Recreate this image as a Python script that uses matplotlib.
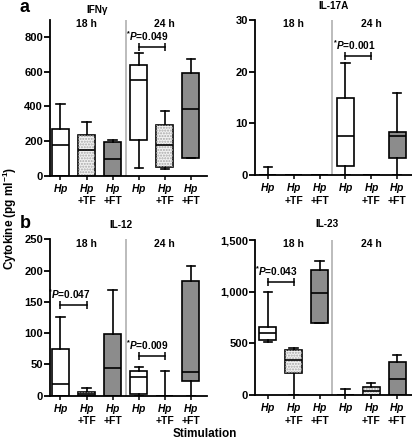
import matplotlib
matplotlib.use("Agg")
import matplotlib.pyplot as plt
from matplotlib.patches import PathPatch
from matplotlib.ticker import FuncFormatter

plt.rcParams['font.family'] = ['Liberation Sans', 'DejaVu Sans']
plt.rcParams['font.weight'] = 'bold'
plt.rcParams['mathtext.fontset'] = 'custom'
plt.rcParams['mathtext.rm'] = 'Liberation Sans:bold'
plt.rcParams['mathtext.it'] = 'Liberation Sans:italic:bold'
plt.rcParams['mathtext.bf'] = 'Liberation Sans:bold'
plt.rcParams['mathtext.bfit'] = 'Liberation Sans:italic:bold'

groups = ['$\\mathbfit{Hp}$', '$\\mathbfit{Hp}$\n+TF', '$\\mathbfit{Hp}$\n+FT'] * 2
positions = [1, 2, 3, 4, 5, 6]
box_colors = ['white', '#f2f2f2', '#8c8c8c'] * 2

# IFNγ
ifn_lo = [0, 0, 0, 46, 38, 100]
ifn_q1 = [0, 0, 0, 204, 52, 104]
ifn_med = [179, 146, 98, 552, 177, 385]
ifn_q3 = [269, 233, 192, 642, 292, 594]
ifn_hi = [415, 308, 208, 710, 375, 677]

# IL-17A
il17_lo = [0, 0, 0, 0, 0, 0]
il17_q1 = [0, 0, 0, 1.7, 0, 3.35]
il17_med = [0, 0, 0, 7.5, 0, 7.5]
il17_q3 = [0, 0, 0, 15.0, 0, 8.4]
il17_hi = [1.55, 0, 0, 21.6, 0, 15.8]

# IL-12
il12_lo = [0, 0, 0, 0, 0, 0]
il12_q1 = [0, 0, 0, 2.7, 0, 24]
il12_med = [18.6, 3, 44.7, 30, 0, 38.3]
il12_q3 = [74.5, 6.4, 98.4, 40, 0, 183.5]
il12_hi = [126, 11.7, 168.6, 46, 38.8, 207]

# IL-23
il23_lo = [510, 0, 694, 0, 0, 0]
il23_q1 = [532, 216, 694, 0, 0, 6]
il23_med = [597, 339, 984, 0, 40, 155]
il23_q3 = [661, 435, 1206, 5, 81, 323]
il23_hi = [994, 461, 1297, 58, 119, 387]

# significance brackets: (left group, right group, height, p text)
ifn_sig = [(4, 5, 742, '0.049')]
il17_sig = [(4, 5, 23.0, '0.001')]
il12_sig = [(1, 2, 144.7, '0.047'), (4, 5, 63.3, '0.009')]
il23_sig = [(1, 2, 1094, '0.043')]

W, H = 412, 441
fig = plt.figure(figsize=(W / 100, H / 100), dpi=100)


def make_ax(left, top, right, bottom):
    return fig.add_axes([left / W, 1 - bottom / H, (right - left) / W, (bottom - top) / H])


def panel(ax, lo, q1, med, q3, hi, sigs, ylim, yticks, title, title_xy, xlim, fmt=None):
    stats = []
    for i in range(6):
        stats.append(dict(med=med[i], q1=q1[i], q3=q3[i], whislo=lo[i], whishi=hi[i]))
    res = ax.bxp(stats, positions=positions, widths=0.65, capwidths=0.32,
                 patch_artist=True, showfliers=False, manage_ticks=False,
                 boxprops=dict(linewidth=1.2, edgecolor='black'),
                 whiskerprops=dict(linewidth=1.2, color='black'),
                 capprops=dict(linewidth=1.2, color='black'),
                 medianprops=dict(linewidth=1.2, color='black'))
    for i, b in enumerate(res['boxes']):
        b.set_facecolor(box_colors[i])
        if i % 3 == 1:
            ax.add_patch(PathPatch(b.get_path(), facecolor='none', edgecolor='#a8a8a8',
                                   hatch='......', lw=0, zorder=2.05))
    ax.axvline(3.5, color='#b0b0b0', lw=1.2, zorder=1)
    ax.set_xlim(*xlim)
    ax.set_ylim(*ylim)
    ax.set_yticks(yticks)
    if fmt:
        ax.yaxis.set_major_formatter(FuncFormatter(fmt))
    ax.set_xticks(positions)
    ax.set_xticklabels(groups, fontsize=7.5, fontweight='bold', linespacing=1.05)
    for s in ['top', 'right']:
        ax.spines[s].set_visible(False)
    for s in ['left', 'bottom']:
        ax.spines[s].set_linewidth(1.3)
    ax.tick_params(axis='y', direction='out', length=4, width=1.3, labelsize=8, pad=1)
    ax.tick_params(axis='x', direction='out', length=3, width=1.1, pad=1.5)
    for lab in ax.get_yticklabels():
        lab.set_fontweight('bold')
    ax.text(2, 0.972, '18 h', transform=ax.get_xaxis_transform(), ha='center', va='center',
            fontsize=7.5, fontweight='bold')
    ax.text(5, 0.972, '24 h', transform=ax.get_xaxis_transform(), ha='center', va='center',
            fontsize=7.5, fontweight='bold')
    ax.text(title_xy[0], title_xy[1], title, transform=ax.transAxes, ha='center', va='center',
            fontsize=7.2, fontweight='bold')
    for x1, x2, y, p in sigs:
        ax.plot([x1, x2], [y, y], color='black', lw=1.1, marker='|', markersize=6,
                markeredgewidth=1.1, clip_on=False)
        ax.annotate('$^{*}\\mathit{P}$=' + p, xy=((x1 + x2) / 2 - 0.15, y), xytext=(0, 3),
                    textcoords='offset points', ha='center', va='bottom', fontsize=7.3,
                    fontweight='bold')


ax1 = make_ax(50, 20, 206.6, 175.7)
panel(ax1, ifn_lo, ifn_q1, ifn_med, ifn_q3, ifn_hi, ifn_sig, (0, 900), [0, 200, 400, 600, 800],
      'IFNγ', (0.30, 1.064), (0.6, 6.6))
ax2 = make_ax(255, 20, 412, 175.2)
panel(ax2, il17_lo, il17_q1, il17_med, il17_q3, il17_hi, il17_sig, (0, 30), [0, 10, 20, 30],
      'IL-17A', (0.50, 1.09), (0.51, 6.57))
ax3 = make_ax(50, 239.3, 206.6, 395.7)
panel(ax3, il12_lo, il12_q1, il12_med, il12_q3, il12_hi, il12_sig, (0, 250), [0, 50, 100, 150, 200, 250],
      'IL-12', (0.45, 1.09), (0.6, 6.6))
ax4 = make_ax(255, 240, 412, 395.2)
panel(ax4, il23_lo, il23_q1, il23_med, il23_q3, il23_hi, il23_sig, (0, 1500), [0, 500, 1000, 1500],
      'IL-23', (0.46, 1.10), (0.51, 6.57), fmt=lambda v, p: f'{int(v):,}')

fig.text(25 / W, 1 - 8 / H, 'a', fontsize=13, fontweight='bold', ha='center', va='center')
fig.text(25 / W, 1 - 223 / H, 'b', fontsize=13, fontweight='bold', ha='center', va='center')
fig.text(10 / W, 1 - 218 / H, 'Cytokine (pg ml$^{\\mathbf{-1}}$)', rotation=90, fontsize=8.5,
         fontweight='bold', ha='center', va='center')
fig.text(205 / W, 1 - 434 / H, 'Stimulation', fontsize=8.5, fontweight='bold', ha='center', va='center')

fig.savefig('out.png', dpi=100)
